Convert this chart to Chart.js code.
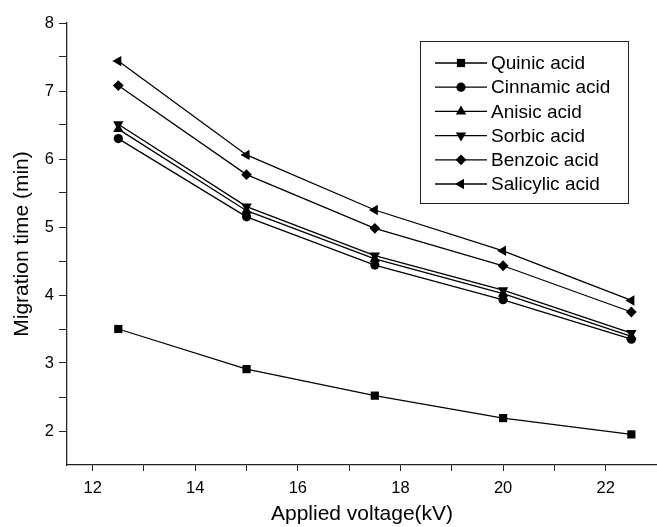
<!DOCTYPE html>
<html>
<head>
<meta charset="utf-8">
<script src="https://cdn.jsdelivr.net/npm/chart.js@4/dist/chart.umd.min.js"></script>
<style>
  html, body { margin: 0; padding: 0; background: #fff; }
  #wrap { width: 657px; height: 527px; }
</style>
</head>
<body>
<div id="wrap"><canvas id="chart"></canvas></div>
<script>
const voltages = [12.5, 15, 17.5, 20, 22.5];
const seriesNames = ['Quinic acid', 'Cinnamic acid', 'Anisic acid', 'Sorbic acid', 'Benzoic acid', 'Salicylic acid'];
const quinic = [3.50, 2.91, 2.52, 2.19, 1.95];
const cinnamic = [6.30, 5.15, 4.44, 3.93, 3.35];
const anisic = [6.44, 5.24, 4.53, 4.02, 3.39];
const sorbic = [6.51, 5.30, 4.58, 4.07, 3.44];
const benzoic = [7.08, 5.77, 4.98, 4.43, 3.75];
const salicylic = [7.44, 6.06, 5.25, 4.65, 3.92];
const xTicks = [12, 13, 14, 15, 16, 17, 18, 19, 20, 21, 22, 23];
const yTicks = [2, 2.5, 3, 3.5, 4, 4.5, 5, 5.5, 6, 6.5, 7, 7.5, 8];

const FONT = '"Liberation Sans", Arial, Helvetica, sans-serif';

const markers = [
  { style: 'rect', radius: 5.8, rotation: 0 },
  { style: 'circle', radius: 4.6, rotation: 0 },
  { style: 'triangle', radius: 6, rotation: 0 },
  { style: 'triangle', radius: 6, rotation: 180 },
  { style: 'rectRot', radius: 5.4, rotation: 0 },
  { style: 'triangle', radius: 6, rotation: 270 }
];

const allSeries = [quinic, cinnamic, anisic, sorbic, benzoic, salicylic];

const datasets = allSeries.map((vals, i) => ({
  label: seriesNames[i],
  data: voltages.map((v, j) => ({ x: v, y: vals[j] })),
  borderColor: '#000',
  backgroundColor: '#000',
  borderWidth: 1.3,
  pointStyle: markers[i].style,
  pointRadius: markers[i].radius,
  pointRotation: markers[i].rotation,
  pointBackgroundColor: '#000',
  pointBorderColor: '#000',
  pointBorderWidth: 0,
  tension: 0
}));

// legend drawn as a boxed list with line + marker samples
const boxLegend = {
  id: 'boxLegend',
  afterDraw(chart) {
    const ctx = chart.ctx;
    const bx = 420, by = 41, bw = 208, bh = 162;
    ctx.save();
    ctx.strokeStyle = '#222';
    ctx.lineWidth = 1;
    ctx.strokeRect(bx + 0.5, by + 0.5, bw, bh);
    ctx.font = '19px ' + FONT;
    ctx.textBaseline = 'middle';
    ctx.fillStyle = '#000';
    chart.data.datasets.forEach((ds, i) => {
      const cy = 63 + i * 24.2;
      ctx.beginPath();
      ctx.strokeStyle = '#000';
      ctx.lineWidth = 1.3;
      ctx.moveTo(435, cy);
      ctx.lineTo(487, cy);
      ctx.stroke();
      ctx.fillStyle = '#000';
      Chart.helpers.drawPoint(ctx, {
        pointStyle: ds.pointStyle,
        radius: ds.pointRadius,
        rotation: ds.pointRotation,
        borderWidth: 0
      }, 461, cy);
      ctx.fillStyle = '#000';
      ctx.fillText(ds.label, 491, cy + 1);
    });
    ctx.restore();
  }
};

new Chart(document.getElementById('chart'), {
  type: 'line',
  data: { datasets: datasets },
  plugins: [boxLegend],
  options: {
    responsive: true,
    maintainAspectRatio: false,
    animation: false,
    layout: { autoPadding: false, padding: { top: 23, right: 0, left: 0, bottom: 0 } },
    plugins: {
      legend: { display: false },
      tooltip: { enabled: false }
    },
    scales: {
      x: {
        type: 'linear',
        min: 11.5,
        max: 23,
        afterBuildTicks: s => { s.ticks = xTicks.map(v => ({ value: v })); },
        afterFit: s => { s.height = 62; s.paddingLeft = 0; s.paddingRight = 0; },
        grid: { drawOnChartArea: false, tickLength: 6, color: '#222', tickWidth: 1 },
        border: { color: '#222', width: 1.3 },
        ticks: {
          color: '#000',
          font: { family: FONT, size: 16.5 },
          padding: 8,
          maxRotation: 0,
          autoSkip: false,
          callback: v => (v % 2 === 0 ? String(v) : '')
        },
        title: {
          display: true,
          text: 'Applied voltage(kV)',
          color: '#000',
          font: { family: FONT, size: 21 },
          padding: { top: 5, bottom: 0 }
        }
      },
      y: {
        type: 'linear',
        min: 1.5,
        max: 8,
        afterBuildTicks: s => { s.ticks = yTicks.map(v => ({ value: v })); },
        afterFit: s => { s.width = 67; },
        grid: { drawOnChartArea: false, tickLength: 8, color: '#222', tickWidth: 1 },
        border: { color: '#222', width: 1.3 },
        ticks: {
          color: '#000',
          font: { family: FONT, size: 16.5 },
          padding: 5,
          autoSkip: false,
          callback: v => (Number.isInteger(v) ? String(v) : '')
        },
        title: {
          display: true,
          text: 'Migration time (min)',
          color: '#000',
          font: { family: FONT, size: 21 },
          padding: { top: 10, bottom: 0 }
        }
      }
    }
  }
});
</script>
</body>
</html>
